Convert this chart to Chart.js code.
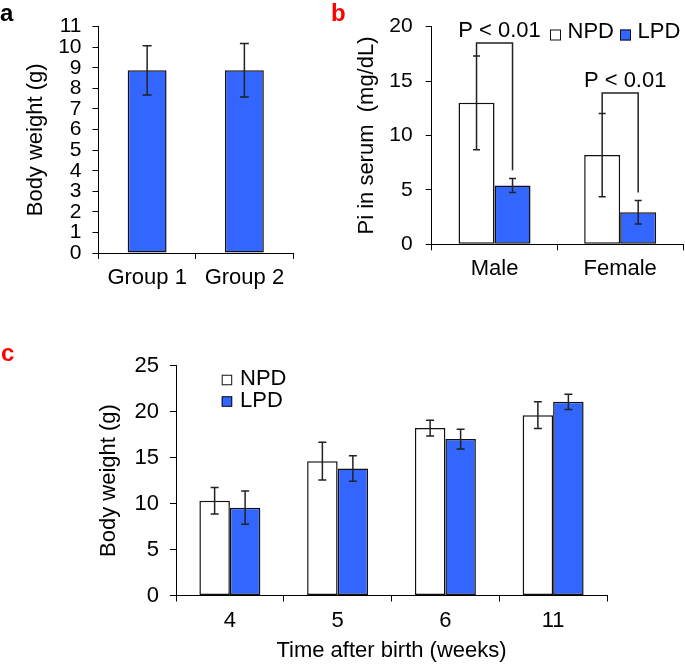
<!DOCTYPE html>
<html><head><meta charset="utf-8">
<script src="https://cdn.jsdelivr.net/npm/chart.js@4/dist/chart.umd.min.js"></script>
<style>
html,body{margin:0;padding:0;background:#fff;width:685px;height:665px;overflow:hidden;}
.panel{position:absolute;}
.panel canvas{display:block;}
.lab{position:absolute;font-family:'Liberation Sans',Arial,sans-serif;font-weight:bold;font-size:24px;line-height:24px;}
</style></head><body>
<div class="panel" style="left:0;top:0;"><canvas id="ca" width="300" height="300"></canvas></div>
<div class="panel" style="left:340px;top:0;"><canvas id="cb" width="345" height="300"></canvas></div>
<div class="panel" style="left:0;top:310px;"><canvas id="cc" width="685" height="355"></canvas></div>
<div class="lab" style="left:0;top:1px;color:#000">a</div>
<div class="lab" style="left:331px;top:1px;color:#ff0000">b</div>
<div class="lab" style="left:1px;top:341px;color:#ff0000">c</div>
<script>
// ---------- DATA ----------
// Panel a
const groupsA = ['Group 1', 'Group 2'];
const weightA = [8.88, 8.88];
const weightSdA = [1.2, 1.3];
const ticksA = {min: 0, max: 11, step: 1};

// Panel b
const sexB = ['Male', 'Female'];
const npdB = [13.0, 8.2];
const npdSdB = [4.3, 3.83];
const lpdB = [5.4, 2.95];
const lpdSdB = [0.65, 1.08];
const sigTopB = [18.5, 13.9];        // bracket height (mg/dL)
const sigRightEndB = [6.8, 4.75];    // bracket right leg end (mg/dL)
const sigLabelB = ['P < 0.01', 'P < 0.01'];
const ticksB = {min: 0, max: 20, step: 5};

// Panel c
const weeksC = ['4', '5', '6', '11'];
const npdC = [10.3, 14.6, 18.2, 19.6];
const npdSdC = [1.45, 2.05, 0.85, 1.45];
const lpdC = [9.55, 13.8, 17.0, 21.05];
const lpdSdC = [1.81, 1.38, 1.07, 0.83];
const ticksC = {min: 0, max: 25, step: 5};

const seriesNames = ['NPD', 'LPD'];

// ---------- STYLE ----------
const FONT = "'Liberation Sans', Arial, sans-serif";
const BLUE = '#3366FF';
const EDGE = '#111111';

const errorBars = {
  id: 'errorBars',
  afterDatasetsDraw(chart, args, opts) {
    const ctx = chart.ctx, ys = chart.scales.y;
    chart.data.datasets.forEach((ds, di) => {
      if (!ds.errors) return;
      const meta = chart.getDatasetMeta(di);
      meta.data.forEach((bar, i) => {
        const v = ds.data[i], e = ds.errors[i];
        const yT = ys.getPixelForValue(v + e), yB = ys.getPixelForValue(v - e);
        const x = bar.x, w = opts.capHalf;
        ctx.save();
        ctx.strokeStyle = opts.color; ctx.lineWidth = opts.width;
        ctx.beginPath();
        ctx.moveTo(x, yT); ctx.lineTo(x, yB);
        ctx.moveTo(x - w, yT); ctx.lineTo(x + w, yT);
        ctx.moveTo(x - w, yB); ctx.lineTo(x + w, yB);
        ctx.stroke();
        ctx.restore();
      });
    });
  }
};

const brackets = {
  id: 'brackets',
  afterDatasetsDraw(chart, args, opts) {
    if (!opts.tops) return;
    const ctx = chart.ctx, ys = chart.scales.y;
    const m0 = chart.getDatasetMeta(0), m1 = chart.getDatasetMeta(1);
    const d0 = chart.data.datasets[0];
    opts.tops.forEach((top, i) => {
      const x1 = m0.data[i].x, x2 = m1.data[i].x;
      const yT = ys.getPixelForValue(top);
      const yL = ys.getPixelForValue(d0.data[i] + d0.errors[i]);
      const yR = ys.getPixelForValue(opts.rightEnds[i]);
      ctx.save();
      ctx.strokeStyle = opts.color; ctx.lineWidth = opts.width;
      ctx.beginPath();
      ctx.moveTo(x1, yL); ctx.lineTo(x1, yT); ctx.lineTo(x2, yT); ctx.lineTo(x2, yR);
      ctx.stroke();
      ctx.fillStyle = '#000';
      ctx.font = opts.size + 'px ' + FONT;
      ctx.textAlign = 'center'; ctx.textBaseline = 'middle';
      ctx.fillText(opts.labels[i], (x1 + x2) / 2 + opts.dx, yT - opts.dy);
      ctx.restore();
    });
  }
};

const boxLegend = {
  id: 'boxLegend',
  afterDraw(chart, args, opts) {
    if (!opts.items) return;
    const ctx = chart.ctx;
    ctx.save();
    ctx.font = opts.size + 'px ' + FONT;
    ctx.textBaseline = 'middle'; ctx.textAlign = 'left';
    chart.data.datasets.forEach((ds, i) => {
      const p = opts.items[i];
      const by = p.y - opts.box / 2 + opts.boxDy;
      ctx.fillStyle = ds.backgroundColor;
      ctx.fillRect(p.x, by, opts.box, opts.box);
      ctx.strokeStyle = EDGE; ctx.lineWidth = 1;
      ctx.strokeRect(p.x + 0.5, by + 0.5, opts.box - 1, opts.box - 1);
      ctx.fillStyle = '#000';
      ctx.fillText(ds.label, p.x + opts.box + opts.gap, p.y);
    });
    ctx.restore();
  }
};

function yScale(t, title, o) {
  return {
    min: t.min, max: t.max,
    ticks: {stepSize: t.step, autoSkip: false, color: '#000', font: {family: FONT, size: o.tickSize}, padding: o.tickPad},
    grid: {drawOnChartArea: false, drawTicks: true, tickLength: 6, color: '#000', lineWidth: 1},
    border: {display: true, color: '#000', width: 1},
    title: {display: true, text: title, color: '#000', font: {family: FONT, size: 22}, padding: {top: o.titlePad, bottom: 0}},
    afterFit(s) { s.width = o.width; }
  };
}
function xScale(o) {
  const s = {
    ticks: {color: '#000', font: {family: FONT, size: 22}, padding: o.tickPad, maxRotation: 0, autoSkip: false},
    grid: {drawOnChartArea: false, drawTicks: true, tickLength: 6, color: '#000', lineWidth: 1, offset: true},
    border: {display: true, color: '#000', width: 1},
    afterFit(sc) { sc.height = o.height; }
  };
  if (o.title) s.title = {display: true, text: o.title, color: '#000', font: {family: FONT, size: 22}, padding: {top: 0, bottom: o.titlePad}};
  return s;
}
function barSet(label, data, errors, color) {
  return {label, data, errors, backgroundColor: color, borderColor: EDGE, borderWidth: 1.5, borderSkipped: false};
}
const base = {responsive: false, animation: false, events: []};

// Panel a
new Chart(document.getElementById('ca'), {
  type: 'bar',
  data: {labels: groupsA, datasets: [Object.assign(barSet('Body weight', weightA, weightSdA, BLUE), {categoryPercentage: 0.4, barPercentage: 1})]},
  options: Object.assign({}, base, {
    layout: {padding: {left: 0, right: 7, top: 26.7, bottom: 0}},
    scales: {
      x: xScale({tickPad: 5.5, height: 47}),
      y: yScale(ticksA, 'Body weight (g)', {tickSize: 21, tickPad: 11, titlePad: 22.3, width: 98.5})
    },
    plugins: {legend: {display: false}, tooltip: {enabled: false}, errorBars: {capHalf: 4.5, color: '#222', width: 1.5}}
  }),
  plugins: [errorBars]
});

// Panel b
new Chart(document.getElementById('cb'), {
  type: 'bar',
  data: {labels: sexB, datasets: [
    Object.assign(barSet(seriesNames[0], npdB, npdSdB, '#ffffff'), {categoryPercentage: 0.573, barPercentage: 1}),
    Object.assign(barSet(seriesNames[1], lpdB, lpdSdB, BLUE), {categoryPercentage: 0.573, barPercentage: 1})
  ]},
  options: Object.assign({}, base, {
    layout: {padding: {left: 0, right: 2, top: 26.7, bottom: 0}},
    scales: {
      x: xScale({tickPad: 5.5, height: 55.7}),
      y: yScale(ticksB, 'Pi in serum  (mg/dL)', {tickSize: 21, tickPad: 13, titlePad: 13.8, width: 91.7})
    },
    plugins: {
      legend: {display: false}, tooltip: {enabled: false},
      errorBars: {capHalf: 3.5, color: '#222', width: 1.5},
      brackets: {tops: sigTopB, rightEnds: sigRightEndB, labels: sigLabelB, color: '#222', width: 1.5, size: 22, dx: 5, dy: 12.5},
      boxLegend: {items: [{x: 210, y: 32}, {x: 280, y: 32}], box: 11, boxDy: 3, gap: 6.5, size: 22}
    }
  }),
  plugins: [errorBars, brackets, boxLegend]
});

// Panel c
new Chart(document.getElementById('cc'), {
  type: 'bar',
  data: {labels: weeksC, datasets: [
    Object.assign(barSet(seriesNames[0], npdC, npdSdC, '#ffffff'), {categoryPercentage: 0.566, barPercentage: 1}),
    Object.assign(barSet(seriesNames[1], lpdC, lpdSdC, BLUE), {categoryPercentage: 0.566, barPercentage: 1})
  ]},
  options: Object.assign({}, base, {
    layout: {padding: {left: 0, right: 78, top: 55.5, bottom: 0}},
    scales: {
      x: xScale({tickPad: 6, height: 69.5, title: 'Time after birth (weeks)', titlePad: 1}),
      y: yScale(ticksC, 'Body weight (g)', {tickSize: 22, tickPad: 11, titlePad: 96.2, width: 176})
    },
    plugins: {
      legend: {display: false}, tooltip: {enabled: false},
      errorBars: {capHalf: 4, color: '#222', width: 1.5},
      boxLegend: {items: [{x: 221.7, y: 69}, {x: 221.7, y: 90.5}], box: 10.5, boxDy: 1, gap: 7.8, size: 22}
    }
  }),
  plugins: [errorBars, boxLegend]
});
</script>
</body></html>
